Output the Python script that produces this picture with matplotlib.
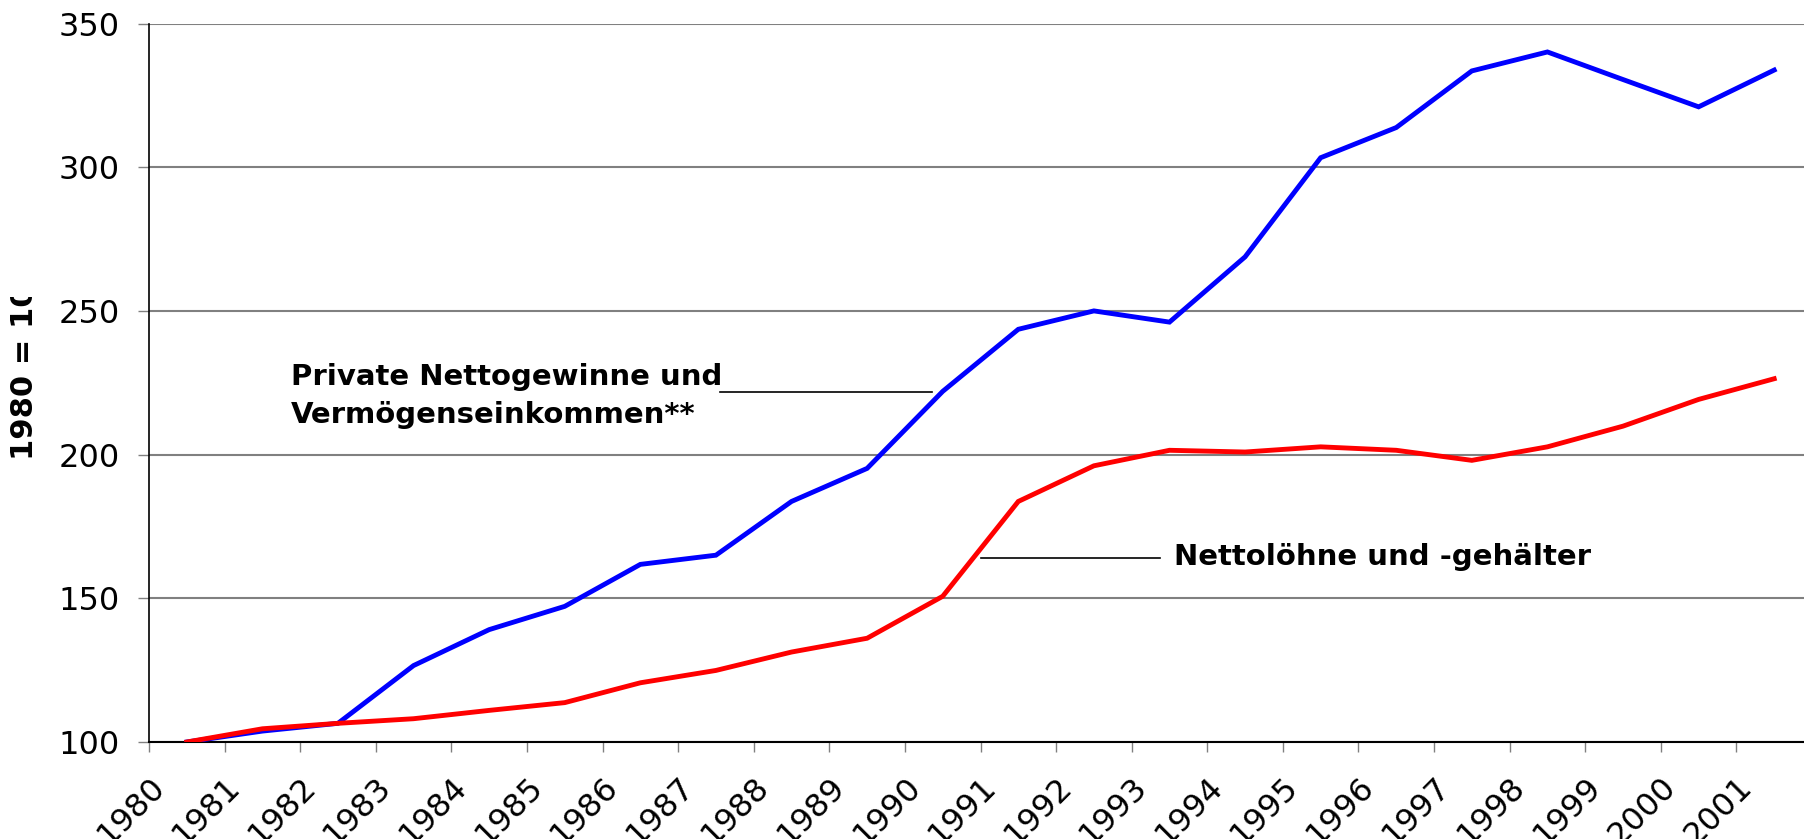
import numpy as np
import matplotlib
matplotlib.use("Agg")
import matplotlib.pyplot as plt
from matplotlib.transforms import Bbox, TransformedBbox, ScaledTranslation, blended_transform_factory

# --------------------------------------------------------------------------- #
#  Data (index 1980 = 100)
# --------------------------------------------------------------------------- #
YEARS = [str(y) for y in range(1980, 2002)]

GEWINNE = [100.0, 103.8, 106.5, 126.6, 139.1, 147.2, 161.8, 165.0, 183.7, 195.2,
           222.0, 243.6, 250.0, 246.1, 268.8, 303.3, 313.8, 333.5, 340.1, 330.5,
           321.0, 333.8]

LOEHNE = [100.0, 104.6, 106.5, 108.1, 111.0, 113.7, 120.6, 124.9, 131.3, 136.1,
          150.7, 183.7, 196.1, 201.5, 200.9, 202.7, 201.5, 198.0, 202.7, 209.9,
          219.2, 226.4]

Y_TICKS = [100, 150, 200, 250, 300, 350]

BLUE = "#0000FF"
RED = "#FF0000"
GRID = "#808080"

W, H, DPI = 1804, 839, 100
FONT = "DejaVu Sans"

fig = plt.figure(figsize=(W / DPI, H / DPI), dpi=DPI)
# plot area runs past the right border of the picture (cut off like the original)
ax = fig.add_axes([149 / W, 97 / H, 1663 / W, 718.5 / H])

x = np.arange(len(YEARS)) + 0.5
ax.plot(x, GEWINNE, color=BLUE, lw=3.5, solid_joinstyle="miter", zorder=3)
ax.plot(x, LOEHNE, color=RED, lw=3.5, solid_joinstyle="miter", zorder=3)

ax.set_xlim(0, len(YEARS))
ax.set_ylim(100, 350)

ax.set_yticks(Y_TICKS)
ax.set_yticklabels([str(v) for v in Y_TICKS], fontsize=23, family=FONT)
ax.tick_params(axis="y", length=8, width=1, color=GRID, pad=13, direction="out")
ax.yaxis.grid(True, color=GRID, lw=1.5)
ax.set_axisbelow(True)

ax.set_xticks(np.arange(len(YEARS) + 1))
ax.set_xticklabels([])
ax.tick_params(axis="x", length=7, width=1, color=GRID, direction="out")

for s in ("top", "right"):
    ax.spines[s].set_visible(False)
ax.spines["left"].set_color("black")
ax.spines["bottom"].set_color("black")
ax.spines["left"].set_linewidth(1.2)
ax.spines["bottom"].set_linewidth(1.5)

# rotated year labels, anchored left of/below each category centre
lab_tr = blended_transform_factory(ax.transData, ax.transAxes) + \
    ScaledTranslation(-38 / DPI, -29 / DPI, fig.dpi_scale_trans)
for xi, lab in zip(x, YEARS):
    ax.text(xi, 0, lab, transform=lab_tr, rotation=45, rotation_mode="anchor",
            ha="right", va="top", fontsize=23, family=FONT, clip_on=False)

# series labels with leader lines
ax.text(1.88, 211.0, "Private Nettogewinne und\nVermögenseinkommen**",
        fontsize=21, fontweight="bold", family=FONT, ha="left",
        va="baseline", linespacing=1.45)
ax.plot([7.55, 10.36], [221.7, 221.7], color="black", lw=1.2)

ax.text(13.56, 161.5, "Nettolöhne und -gehälter", fontsize=21,
        fontweight="bold", family=FONT, ha="left", va="baseline")
ax.plot([11.0, 13.38], [164.0, 164.0], color="black", lw=1.2)

# y axis title, clipped at the top as in the original
yl = fig.text(25 / W, 1 - 460 / H, "1980 = 100", rotation=90, ha="center",
              va="bottom", fontsize=22, fontweight="bold", family=FONT)
yl.set_clip_box(TransformedBbox(Bbox.from_extents(0, 0, 140 / W, 1 - 297 / H),
                                fig.transFigure))
yl.set_clip_on(True)

fig.savefig("out.png", dpi=DPI)
